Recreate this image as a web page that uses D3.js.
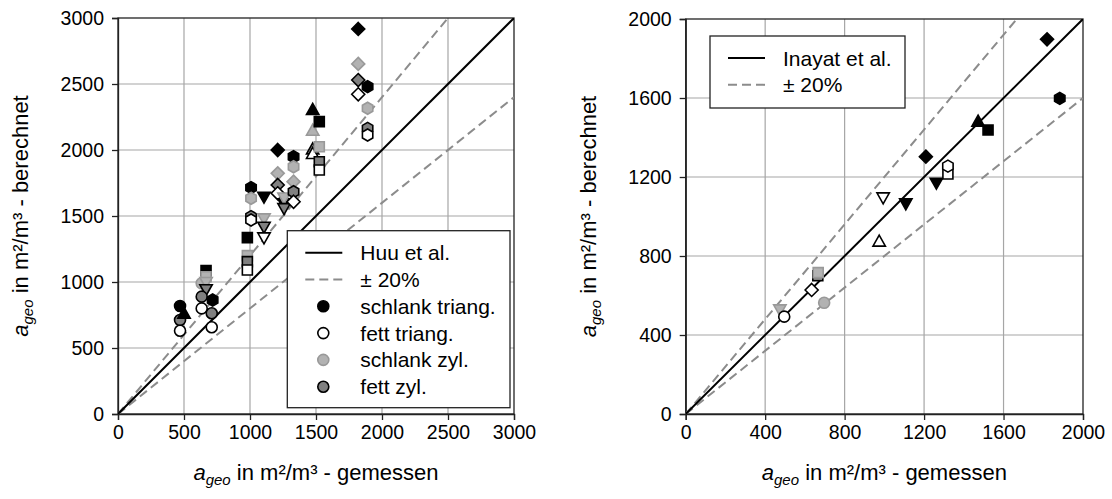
<!DOCTYPE html>
<html><head><meta charset="utf-8">
<script src="https://cdn.jsdelivr.net/npm/d3@7"></script>
<style>body{margin:0;background:#fff} text{font-family:"Liberation Sans",Arial,sans-serif;fill:#000}</style>
</head><body><svg id="c" width="1112" height="499"></svg>
<script>
// ---------- DATA ----------
const leftTicks = [0, 500, 1000, 1500, 2000, 2500, 3000];
const rightTicks = [0, 400, 800, 1200, 1600, 2000];
const groups = ["schlank triang.", "fett triang.", "schlank zyl.", "fett zyl."];
// group codes: 0 = schlank triang. (black), 1 = fett triang. (white), 2 = schlank zyl. (light gray), 3 = fett zyl. (dark gray)
const leftMeasured = [470,470,470,500,
  667,667,634,667,667,634,717,634,710,710,
  980,980,980,980,
  1008,1008,1008,1008,
  1106,1106,1106,1106,
  1210,1210,1210,1210,
  1258,1258,1258,
  1330,1330,1330,1330,1330,
  1475,1475,1475,1475,
  1525,1525,1525,1525,
  1820,1820,1820,1820,
  1891,1891,1891,1891];
const leftComputed = [818,712,631,760,
  1086,1040,990,1000,945,889,864,800,763,657,
  1336,1200,1154,1091,
  1715,1634,1495,1470,
  1646,1482,1419,1338,
  2000,1823,1735,1672,
  1596,1640,1560,
  1949,1873,1760,1684,1608,
  2303,2146,2005,1970,
  2215,2025,1911,1848,
  2917,2652,2530,2422,
  2480,2316,2164,2114];
const leftShape = ["circle","circle","circle","triUp",
  "square","square","circle","triDown","triDown","circle","hex","circle","circle","circle",
  "square","square","square","square",
  "hex","hex","hex","hex",
  "triDown","triDown","triDown","triDown",
  "diamond","diamond","diamond","diamond",
  "triDown","triDown","triDown",
  "hex","hex","diamond","hex","diamond",
  "triUp","triUp","triUp","triUp",
  "square","square","square","square",
  "diamond","diamond","diamond","diamond",
  "hex","hex","hex","hex"];
const leftGroup = [0,3,1,0,
  0,2,2,2,3,3,0,1,3,1,
  0,2,3,1,
  0,2,3,1,
  0,2,3,1,
  0,2,3,1,
  0,2,3,
  0,2,2,3,1,
  0,2,3,1,
  0,2,3,1,
  0,2,3,1,
  0,2,3,1];

const rightMeasured = [474,496,697,634,665,667,974,994,1108,1209,1262,1320,1320,1472,1522,1819,1883];
const rightComputed = [530,493,563,628,700,716,873,1097,1067,1303,1171,1215,1255,1480,1438,1897,1598];
const rightShape = ["triDown","circle","circle","diamond","square","square","triUp","triDown","triDown","diamond","triDown","square","hex","triUp","square","diamond","hex"];
const rightGroup = [2,1,2,1,3,2,1,1,0,0,0,1,1,0,0,0,0];

// ---------- STYLE ----------
const fills = ["#000000", "#ffffff", "#b2b2b2", "#808080"];
const strokes = ["#000000", "#000000", "#999999", "#000000"];

function shapePath(s) {
  switch (s) {
    case "circle": return "M5.5,0A5.5,5.5,0,1,1,-5.5,0A5.5,5.5,0,1,1,5.5,0Z";
    case "square": return "M-5,-5H5V5H-5Z";
    case "diamond": return "M0,-6.5L6.5,0L0,6.5L-6.5,0Z";
    case "triUp": return "M0,-6.5L6.2,4.5L-6.2,4.5Z";
    case "triDown": return "M0,6.5L6.2,-4.5L-6.2,-4.5Z";
    case "hex": {
      const r = 6, pts = [];
      for (let i = 0; i < 6; i++) { const a = -Math.PI/2 + i*Math.PI/3; pts.push([r*Math.cos(a), r*Math.sin(a)]); }
      return "M" + pts.map(p => p.join(",")).join("L") + "Z";
    }
  }
}

const svg = d3.select("#c");

function panel(cfg) {
  const x = d3.scaleLinear().domain([0, cfg.max]).range([cfg.x0, cfg.x1]);
  const y = d3.scaleLinear().domain([0, cfg.max]).range([cfg.y1, cfg.y0]);
  const g = svg.append("g");
  // grid
  g.append("g").selectAll("line.gx").data(cfg.ticks.slice(1, -1)).join("line")
    .attr("x1", d => x(d)).attr("x2", d => x(d)).attr("y1", cfg.y0).attr("y2", cfg.y1)
    .attr("stroke", "#a6a6a6").attr("stroke-width", 1.2);
  g.append("g").selectAll("line.gy").data(cfg.ticks.slice(1, -1)).join("line")
    .attr("y1", d => y(d)).attr("y2", d => y(d)).attr("x1", cfg.x0).attr("x2", cfg.x1)
    .attr("stroke", "#a6a6a6").attr("stroke-width", 1.2);
  // frame top/right
  g.append("rect").attr("x", cfg.x0).attr("y", cfg.y0).attr("width", cfg.x1 - cfg.x0).attr("height", cfg.y1 - cfg.y0)
    .attr("fill", "none").attr("stroke", "#222").attr("stroke-width", 1.3);
  // axes
  const ax = g.append("g").attr("transform", `translate(0,${cfg.y1})`)
    .call(d3.axisBottom(x).tickValues(cfg.ticks).tickSize(6).tickPadding(5).tickFormat(d3.format("d")));
  const ay = g.append("g").attr("transform", `translate(${cfg.x0},0)`)
    .call(d3.axisLeft(y).tickValues(cfg.ticks).tickSize(6).tickPadding(8).tickFormat(d3.format("d")));
  [ax, ay].forEach(a => {
    a.select(".domain").attr("stroke", "#222").attr("stroke-width", 1.3);
    a.selectAll(".tick line").attr("stroke", "#222").attr("stroke-width", 1.3);
    a.selectAll(".tick text").attr("font-size", 19.5).attr("font-family", "Liberation Sans, Arial, sans-serif").attr("fill", "#000");
  });
  // reference lines
  const clip = "clip" + cfg.id;
  svg.append("clipPath").attr("id", clip).append("rect")
    .attr("x", cfg.x0).attr("y", cfg.y0).attr("width", cfg.x1 - cfg.x0).attr("height", cfg.y1 - cfg.y0);
  const lines = g.append("g").attr("clip-path", `url(#${clip})`);
  const line = d3.line().x(d => x(d[0])).y(d => y(d[1]));
  [1.2, 0.8].forEach(f => {
    lines.append("path").attr("d", line([[0, 0], [cfg.max, cfg.max * f]]))
      .attr("stroke", "#8c8c8c").attr("stroke-width", 2).attr("stroke-dasharray", "9,5").attr("fill", "none");
  });
  lines.append("path").attr("d", line([[0, 0], [cfg.max, cfg.max]]))
    .attr("stroke", "#000").attr("stroke-width", 2).attr("fill", "none");
  // markers
  g.append("g").selectAll("path.m").data(cfg.mx.map((v, i) => i)).join("path")
    .attr("d", i => shapePath(cfg.shape[i]))
    .attr("transform", i => `translate(${x(cfg.mx[i])},${y(cfg.my[i])})`)
    .attr("fill", i => fills[cfg.grp[i]]).attr("stroke", i => strokes[cfg.grp[i]]).attr("stroke-width", 1.6);
  // titles
  const cx = (cfg.x0 + cfg.x1) / 2, cy = (cfg.y0 + cfg.y1) / 2;
  function title(t, label) {
    t.attr("font-size", 22).attr("text-anchor", "middle");
    t.append("tspan").attr("font-style", "italic").text("a");
    t.append("tspan").attr("font-style", "italic").attr("font-size", 15).attr("dy", 5).text("geo");
    t.append("tspan").attr("dy", -5).text(" in m²/m³ - " + label);
  }
  title(svg.append("text").attr("x", cx).attr("y", 480), "gemessen");
  title(svg.append("text").attr("transform", `translate(${cfg.x0 - 90},${cy}) rotate(-90)`), "berechnet");
  return g;
}

panel({id: "L", max: 3000, ticks: leftTicks, x0: 118, x1: 514, y0: 18, y1: 414,
  mx: leftMeasured, my: leftComputed, shape: leftShape, grp: leftGroup});
panel({id: "R", max: 2000, ticks: rightTicks, x0: 685.7, x1: 1083, y0: 19, y1: 414,
  mx: rightMeasured, my: rightComputed, shape: rightShape, grp: rightGroup});

// ---------- LEGENDS ----------
function legend(x0, y0, w, h, entries) {
  const g = svg.append("g");
  g.append("rect").attr("x", x0).attr("y", y0).attr("width", w).attr("height", h)
    .attr("fill", "#fff").attr("stroke", "#222").attr("stroke-width", 1.3);
  entries.forEach((e, i) => {
    const cy = y0 + 22 + i * 26.8;
    if (e.type === "solid" || e.type === "dash") {
      g.append("line").attr("x1", x0 + 18).attr("x2", x0 + 55).attr("y1", cy).attr("y2", cy)
        .attr("stroke", e.type === "solid" ? "#000" : "#8c8c8c").attr("stroke-width", 2)
        .attr("stroke-dasharray", e.type === "dash" ? "9,5" : null);
    } else {
      g.append("path").attr("d", shapePath("circle")).attr("transform", `translate(${x0 + 36},${cy})`)
        .attr("fill", fills[e.grp]).attr("stroke", strokes[e.grp]).attr("stroke-width", 1.6);
    }
    g.append("text").attr("x", x0 + 73).attr("y", cy).attr("dy", "0.36em").attr("font-size", 21).text(e.label);
  });
}
legend(287.3, 230.7, 222.7, 177, [
  {type: "solid", label: "Huu et al."},
  {type: "dash", label: "± 20%"},
  ...groups.map((gname, i) => ({type: "marker", grp: i, label: gname}))
]);
legend(710, 36, 195, 72, [
  {type: "solid", label: "Inayat et al."},
  {type: "dash", label: "± 20%"}
]);
</script></body></html>
